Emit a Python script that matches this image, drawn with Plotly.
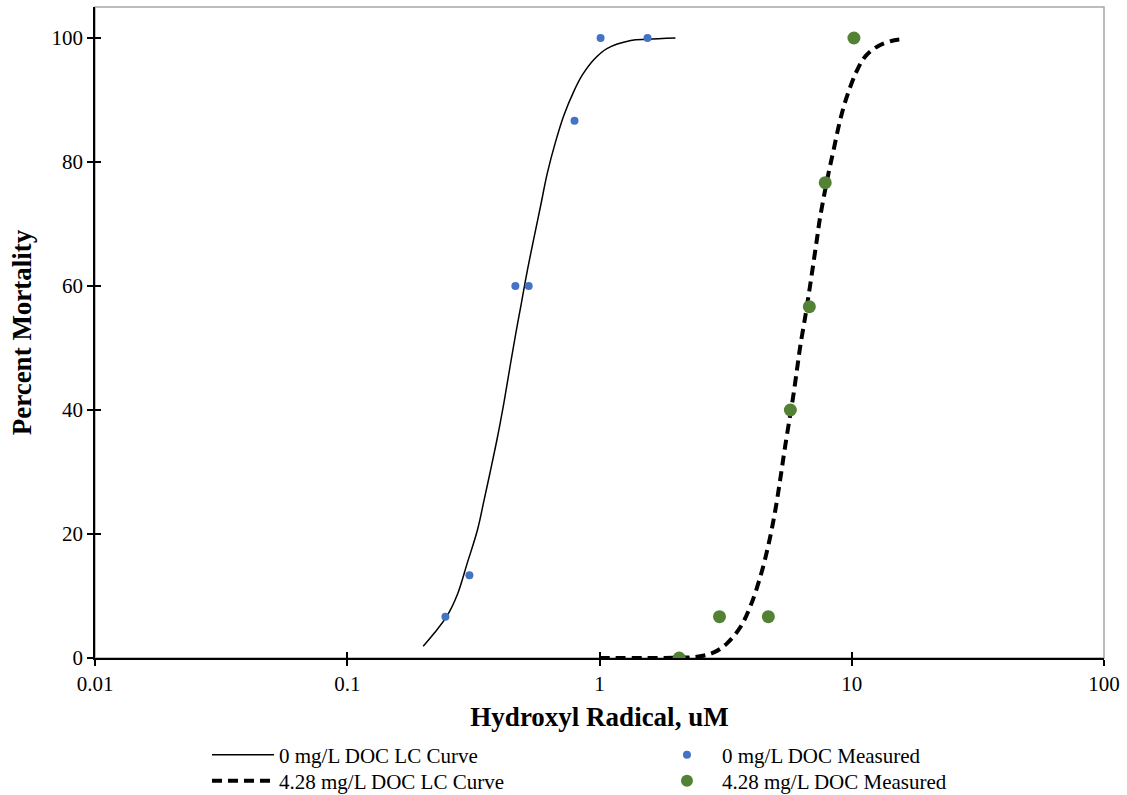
import plotly.graph_objects as go

# Measured mortality (%) at each hydroxyl radical concentration (uM)
oh_0doc = [0.245, 0.305, 0.464, 0.524, 0.796, 1.01, 1.55]
mort_0doc = [6.67, 13.33, 60.0, 60.0, 86.67, 100.0, 100.0]

oh_428doc = [2.07, 2.99, 4.67, 5.71, 6.79, 7.85, 10.2]
mort_428doc = [0.0, 6.67, 6.67, 40.0, 56.67, 76.67, 100.0]

# Fitted LC curves (concentration, percent mortality)
curve_0doc_x = [0.200, 0.221, 0.248, 0.273, 0.299, 0.328, 0.348, 0.370, 0.393, 0.418,
                0.444, 0.466, 0.490, 0.517, 0.550, 0.584, 0.621, 0.669, 0.722, 0.791,
                0.854, 0.949, 1.07, 1.33, 1.55, 2.0]
curve_0doc_y = [1.9, 4.0, 6.7, 10.2, 15.3, 20.6, 25.3, 30.3, 35.4, 41.2,
                47.5, 52.4, 57.2, 62.4, 67.8, 72.9, 78.2, 83.2, 87.5, 91.4,
                94.0, 96.5, 98.3, 99.6, 99.8, 100.0]

curve_428doc_x = [1.0, 1.5, 2.0, 2.44, 2.84, 3.21, 3.62, 3.96, 4.34, 4.69,
                  4.98, 5.21, 5.40, 5.67, 5.85, 6.07, 6.25, 6.55, 6.81, 7.06,
                  7.28, 7.50, 8.09, 8.47, 8.87, 9.29, 9.86, 10.5, 11.3, 12.6,
                  14.6, 15.8]
curve_428doc_y = [0.0, 0.0, 0.05, 0.2, 0.9, 2.4, 5.0, 8.3, 13.1, 18.5,
                  23.9, 28.9, 33.2, 38.6, 42.0, 46.6, 50.3, 55.2, 59.6, 63.9,
                  67.6, 71.2, 78.2, 81.9, 85.7, 88.9, 92.1, 94.8, 97.0, 98.6,
                  99.6, 99.8]

x_tickvals = [0.01, 0.1, 1, 10, 100]
x_ticktext = ["0.01", "0.1", "1", "10", "100"]
y_tickvals = [0, 20, 40, 60, 80, 100]

SERIF = "Liberation Serif"
BLUE = "#4472C4"
GREEN = "#548235"

fig = go.Figure()

fig.add_trace(go.Scatter(
    x=curve_0doc_x, y=curve_0doc_y, mode="lines", name="0 mg/L DOC LC Curve",
    line=dict(color="black", width=1.5, shape="spline"), legend="legend"))
fig.add_trace(go.Scatter(
    x=curve_428doc_x, y=curve_428doc_y, mode="lines", name="4.28 mg/L DOC LC Curve",
    line=dict(color="black", width=4, dash="10px,6px", shape="spline"), legend="legend2"))
fig.add_trace(go.Scatter(
    x=oh_0doc, y=mort_0doc, mode="markers", name="0 mg/L DOC Measured",
    marker=dict(color=BLUE, size=8), legend="legend3"))
fig.add_trace(go.Scatter(
    x=oh_428doc, y=mort_428doc, mode="markers", name="4.28 mg/L DOC Measured",
    marker=dict(color=GREEN, size=13), legend="legend4"))

# empty trace so the overlay axes (inner half of the crossing ticks) are drawn
fig.add_trace(go.Scatter(x=[], y=[], xaxis="x2", yaxis="y2", showlegend=False,
                         hoverinfo="skip"))

axis_common = dict(showgrid=False, zeroline=False, linecolor="black", linewidth=1.5,
                   ticks="outside", ticklen=6, tickwidth=1.5, tickcolor="black",
                   tickfont=dict(family=SERIF, size=21, color="black"))

legend_common = dict(xanchor="left", yanchor="middle", orientation="v",
                     font=dict(family=SERIF, size=21, color="black"),
                     bgcolor="rgba(0,0,0,0)", borderwidth=0)

ROW1, ROW2 = -0.149, -0.189
COL1, COL2 = 0.111, 0.552

fig.update_layout(
    width=1127, height=795,
    showlegend=True,
    margin=dict(l=95, r=23, t=7, b=137, autoexpand=False),
    paper_bgcolor="white", plot_bgcolor="white",
    font=dict(family=SERIF, color="black"),
    xaxis=dict(type="log", range=[-2, 2], tickvals=x_tickvals, ticktext=x_ticktext,
               showline=True, **axis_common,
               title=dict(text="<b>Hydroxyl Radical, uM</b>",
                          font=dict(family=SERIF, size=27), standoff=12)),
    yaxis=dict(range=[0, 105], tickvals=y_tickvals, showline=True, **axis_common,
               title=dict(text="<b>Percent Mortality</b>",
                          font=dict(family=SERIF, size=27), standoff=12)),
    xaxis2=dict(type="log", range=[-2, 2], tickvals=x_tickvals, overlaying="x",
                anchor="y", side="bottom", ticks="inside", ticklen=6, tickwidth=1.5,
                tickcolor="black", showticklabels=False, showgrid=False,
                zeroline=False, showline=False),
    yaxis2=dict(range=[0, 105], tickvals=y_tickvals, overlaying="y", anchor="x",
                side="left", ticks="inside", ticklen=6, tickwidth=1.5,
                tickcolor="black", showticklabels=False, showgrid=False,
                zeroline=False, showline=False),
    legend=dict(x=COL1, y=ROW1, itemwidth=62, **legend_common),
    legend2=dict(x=COL1, y=ROW2, itemwidth=62, **legend_common),
    legend3=dict(x=COL2, y=ROW1, itemwidth=60, **legend_common),
    legend4=dict(x=COL2, y=ROW2, itemwidth=60, itemsizing="constant", **legend_common),
    shapes=[dict(type="rect", xref="x domain", yref="y domain", x0=0, x1=1, y0=0, y1=1,
                 line=dict(color="#A6A6A6", width=1.5), layer="below")],
)

fig.write_html("out.html")
